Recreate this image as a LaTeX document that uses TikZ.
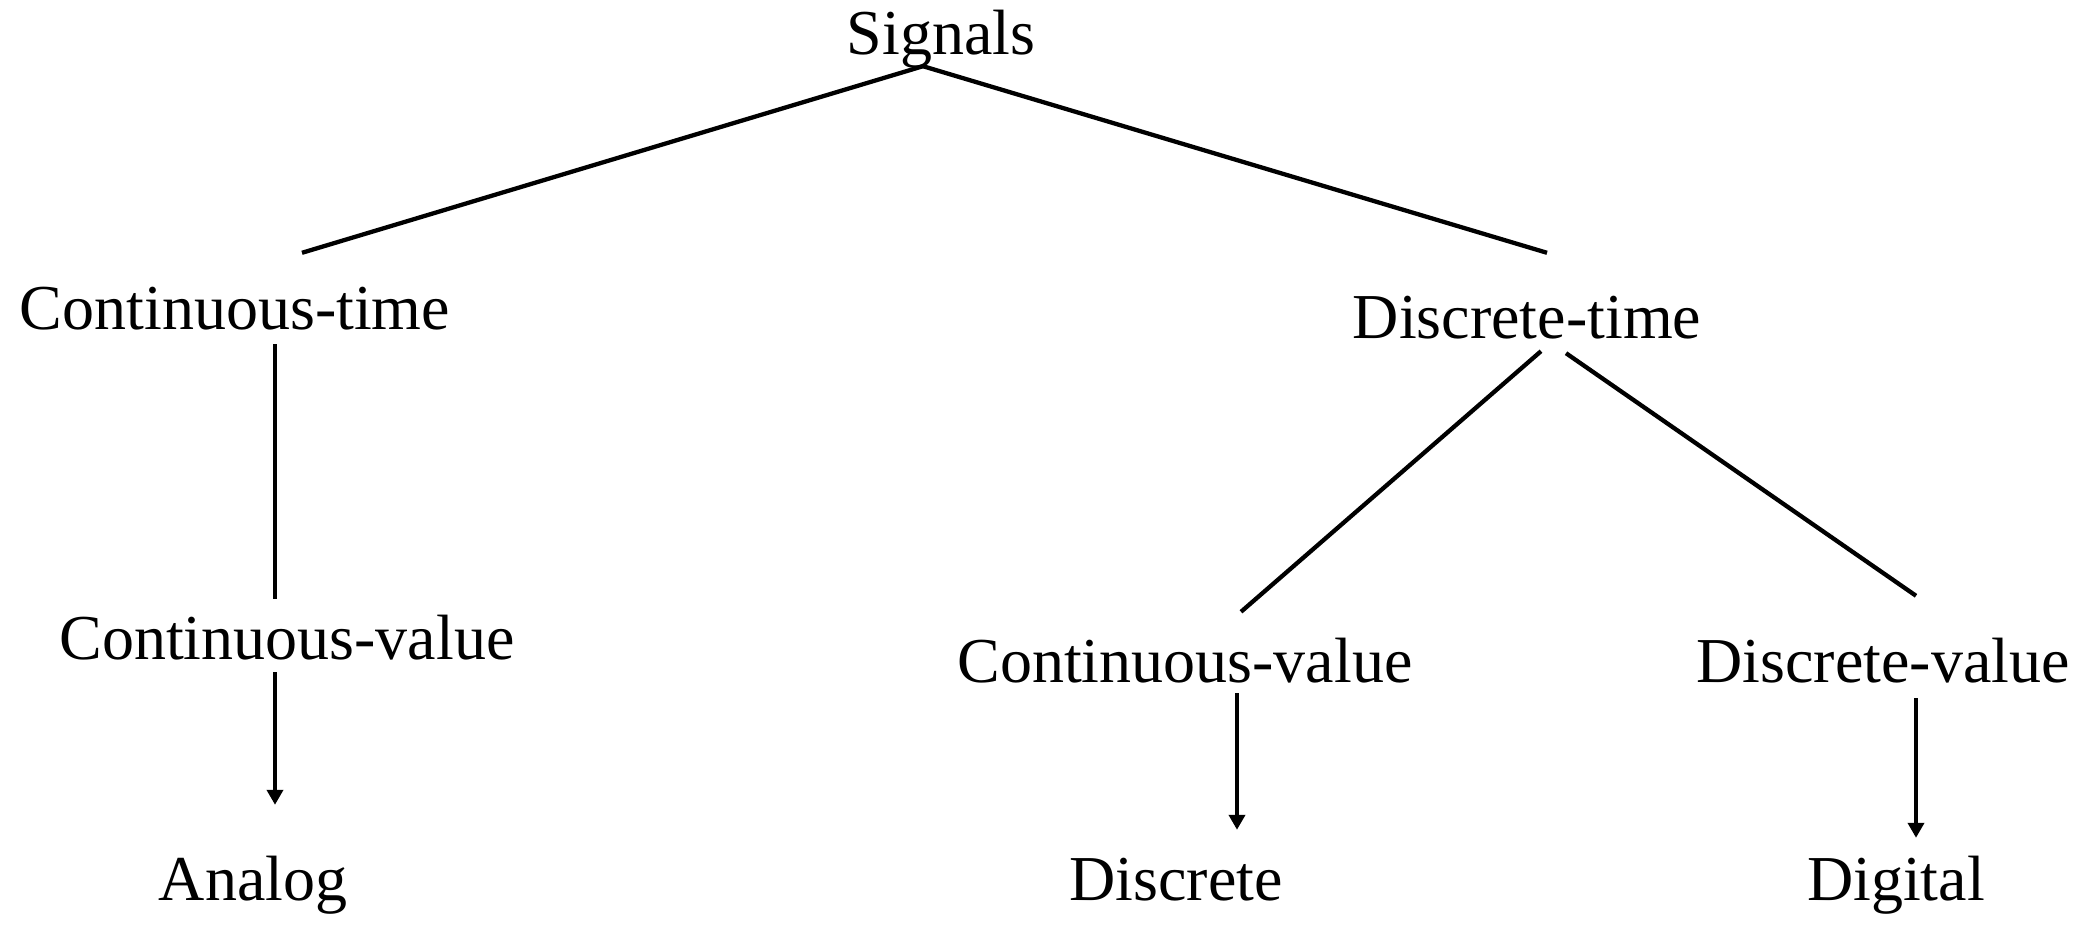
\documentclass[tikz,border=0pt]{standalone}
\usepackage{fontspec}
\setmainfont{Liberation Serif}
\usetikzlibrary{arrows.meta,positioning}

\tikzset{
    lbl/.style={anchor=base, inner sep=0pt, text height=46pt, text depth=14pt,
        font=\fontsize{64}{76}\selectfont},
    branch/.style={line width=4.3pt},
    flow/.style={line width=4.3pt, -{Triangle[width=16pt,length=15pt]}}
}

\begin{document}
\begin{tikzpicture}[x=1pt,y=-1pt]
    \useasboundingbox (0,0) rectangle (2086,925);

    % Tree labels
    \node[lbl] (sig) at (941,55) {Signals};
    \node[lbl] (ctime) at (235,330) {Continuous-time};
    \node[lbl] (dtime) at (1527,338) {Discrete-time};
    \node[lbl] (cvalL) at (287,659) {Continuous-value};
    \node[lbl] (cvalR) at (1185,682) {Continuous-value};
    \node[lbl] (dval) at (1883,682) {Discrete-value};
    \node[lbl] (analog) at (253,900) {Analog};
    \node[lbl] (disc) at (1176,900) {Discrete};
    \node[lbl] (digi) at (1896,900) {Digital};

    % Branches
    \draw[branch] ([xshift=-18pt,yshift=3pt]sig.south) -- ([xshift=67pt,yshift=31pt]ctime.north);
    \draw[branch] ([xshift=-18pt,yshift=3pt]sig.south) -- ([xshift=20pt,yshift=39pt]dtime.north);
    \draw[branch] ([xshift=40pt]ctime.south) -- ([xshift=-12pt,yshift=14pt]cvalL.north);
    \draw[branch] ([xshift=14pt,yshift=1pt]dtime.south) -- ([xshift=56pt,yshift=24pt]cvalR.north);
    \draw[branch] ([xshift=39pt,yshift=-1pt]dtime.south) -- ([xshift=33pt,yshift=40pt]dval.north);

    % Results
    \draw[flow] ([xshift=-12pt,yshift=1pt]cvalL.south) -- ([xshift=22pt,yshift=49pt]analog.north);
    \draw[flow] ([xshift=52pt,yshift=3pt]cvalR.south) -- ([xshift=61pt,yshift=24pt]disc.north);
    \draw[flow] ([xshift=33pt,yshift=-2pt]dval.south) -- ([xshift=20pt,yshift=16pt]digi.north);
\end{tikzpicture}
\end{document}
